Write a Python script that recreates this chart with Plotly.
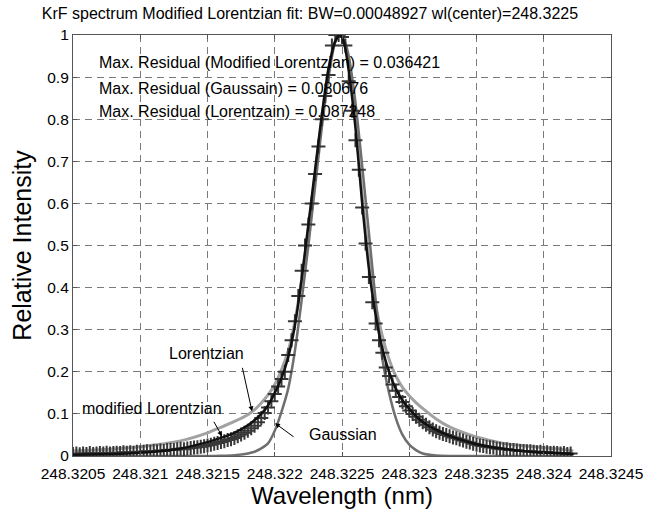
import plotly.graph_objects as go

# ---- data (offsets in units of 1e-5 nm relative to 248.3225 nm) ----
CENTER_NM = 248.3225
UNIT_NM = 1e-5

DATA_OFFSET = [
    -200, -197.5, -195, -192.5, -190, -187.5, -185, -182.5, -180, -177.5,
    -175, -172.5, -170, -167.5, -165, -162.5, -160, -157.5, -155, -152.5,
    -150, -147.5, -145, -142.5, -140, -137.5, -135, -132.5, -130, -127.5,
    -125, -122.5, -120, -117.5, -115, -112.5, -110, -107.5, -105, -102.5,
    -100, -97.5, -95, -92.5, -90, -87.5, -85, -82.5, -80, -77.5,
    -75, -72.5, -70, -67.5, -65, -62.5, -60, -57.5, -55, -52.5,
    -50, -47.5, -45, -42.5, -40, -37.5, -35, -32.5, -30, -27.5,
    -25, -22.5, -20, -17.5, -15, -12.5, -10, -7.5, -5, -2.5,
    0, 2.5, 5, 7.5, 10, 12.5, 15, 17.5, 20, 22.5,
    25, 27.5, 30, 32.5, 35, 37.5, 40, 42.5, 45, 47.5,
    50, 52.5, 55, 57.5, 60, 62.5, 65, 67.5, 70, 72.5,
    75, 77.5, 80, 82.5, 85, 87.5, 90, 92.5, 95, 97.5,
    100, 102.5, 105, 107.5, 110, 112.5, 115, 117.5, 120, 122.5,
    125, 127.5, 130, 132.5, 135, 137.5, 140, 142.5, 145, 147.5,
    150, 152.5, 155, 157.5, 160, 162.5, 165, 167.5, 170,
]
DATA_INTENSITY = [
    0.005, 0.006, 0.004, 0.006, 0.005, 0.007, 0.005, 0.006, 0.007, 0.006,
    0.008, 0.006, 0.007, 0.008, 0.007, 0.009, 0.008, 0.009, 0.008, 0.010,
    0.009, 0.010, 0.011, 0.010, 0.012, 0.011, 0.013, 0.012, 0.014, 0.015,
    0.014, 0.016, 0.017, 0.016, 0.018, 0.019, 0.020, 0.021, 0.022, 0.023,
    0.025, 0.027, 0.029, 0.031, 0.033, 0.035, 0.038, 0.040, 0.043, 0.047,
    0.051, 0.055, 0.060, 0.066, 0.072, 0.080, 0.090, 0.102, 0.115, 0.130,
    0.147, 0.165, 0.183, 0.200, 0.240, 0.275, 0.320, 0.380, 0.440, 0.500,
    0.550, 0.600, 0.670, 0.735, 0.800, 0.855, 0.905, 0.975, 1.000, 1.000,
    0.995, 0.975, 0.890, 0.820, 0.750, 0.680, 0.590, 0.505, 0.425, 0.365,
    0.315, 0.275, 0.245, 0.210, 0.190, 0.170, 0.155, 0.140, 0.128, 0.118,
    0.108, 0.100, 0.093, 0.086, 0.080, 0.074, 0.068, 0.063, 0.059, 0.055,
    0.052, 0.050, 0.047, 0.044, 0.042, 0.039, 0.037, 0.034, 0.032, 0.029,
    0.027, 0.025, 0.024, 0.022, 0.021, 0.020, 0.018, 0.017, 0.016, 0.016,
    0.014, 0.014, 0.013, 0.012, 0.012, 0.011, 0.011, 0.010, 0.009, 0.010,
    0.008, 0.009, 0.007, 0.008, 0.007, 0.006, 0.007, 0.005, 0.006,
]

FIT_OFFSET = [
    -200, -180, -160, -140, -120, -100, -90, -80, -70, -65, -60, -55, -50,
    -45, -40, -35, -30, -25, -20, -15, -10, -5, -2, 0, 2, 5, 10, 15, 20,
    25, 30, 35, 40, 45, 50, 55, 60, 70, 80, 90, 100, 120, 140, 160, 172,
]
MOD_LORENTZIAN = [
    0.003, 0.004, 0.006, 0.010, 0.018, 0.033, 0.043, 0.055, 0.073, 0.085, 0.100, 0.120, 0.150,
    0.185, 0.235, 0.310, 0.420, 0.550, 0.680, 0.810, 0.920, 0.985, 1.000, 0.995, 0.975, 0.915, 0.780, 0.600, 0.445,
    0.335, 0.255, 0.200, 0.160, 0.132, 0.112, 0.095, 0.081, 0.062, 0.048, 0.037, 0.028, 0.017, 0.010, 0.007, 0.005,
]
LORENTZIAN = [
    0.012, 0.015, 0.019, 0.026, 0.036, 0.055, 0.068, 0.082, 0.098, 0.110, 0.126, 0.145, 0.170,
    0.205, 0.250, 0.320, 0.420, 0.540, 0.670, 0.800, 0.920, 0.985, 1.000, 0.995, 0.980, 0.935, 0.800, 0.620, 0.470,
    0.360, 0.285, 0.230, 0.190, 0.163, 0.143, 0.127, 0.113, 0.088, 0.069, 0.056, 0.045, 0.030, 0.023, 0.017, 0.012,
]
GAUSSIAN = [
    0.0, 0.0, 0.0, 0.0, 0.0, 0.0, 0.0005, 0.002, 0.006, 0.010, 0.018, 0.030, 0.060,
    0.105, 0.160, 0.250, 0.370, 0.500, 0.640, 0.780, 0.900, 0.985, 1.000, 0.995, 0.985, 0.950, 0.840, 0.690, 0.530,
    0.370, 0.230, 0.150, 0.090, 0.050, 0.027, 0.014, 0.006, 0.001, 0.0, 0.0, 0.0, 0.0, 0.0, 0.0, 0.0,
]

X_TICKS = [248.3205, 248.321, 248.3215, 248.322, 248.3225, 248.323, 248.3235, 248.324, 248.3245]
X_TICK_LABELS = ["248.3205", "248.321", "248.3215", "248.322", "248.3225", "248.323", "248.3235", "248.324", "248.3245"]
Y_TICKS = [0, 0.1, 0.2, 0.3, 0.4, 0.5, 0.6, 0.7, 0.8, 0.9, 1.0]
Y_TICK_LABELS = ["0", "0.1", "0.2", "0.3", "0.4", "0.5", "0.6", "0.7", "0.8", "0.9", "1"]

RESIDUAL_TEXTS = [
    "Max. Residual (Modified Lorentzian) = 0.036421",
    "Max. Residual (Gaussain) = 0.080676",
    "Max. Residual (Lorentzain) = 0.087248",
]

TITLE = "KrF spectrum Modified Lorentzian fit: BW=0.00048927 wl(center)=248.3225"

# ---- build ----
data_wl = [CENTER_NM + o * UNIT_NM for o in DATA_OFFSET]
fit_wl = [CENTER_NM + o * UNIT_NM for o in FIT_OFFSET]

FONT = "Liberation Sans, Arial, sans-serif"

fig = go.Figure()
fig.add_trace(go.Scatter(x=fit_wl, y=LORENTZIAN, mode="lines", name="Lorentzian",
                         line=dict(color="#a2a2a2", width=3, shape="spline", smoothing=0.6)))
fig.add_trace(go.Scatter(x=fit_wl, y=GAUSSIAN, mode="lines", name="Gaussian",
                         line=dict(color="#6f6f6f", width=2.5, shape="spline", smoothing=0.6)))
fig.add_trace(go.Scatter(x=data_wl, y=DATA_INTENSITY, mode="markers", name="measured",
                         marker=dict(symbol="cross-thin", size=10, color="#383838",
                                     line=dict(color="#383838", width=2))))
fig.add_trace(go.Scatter(x=fit_wl, y=MOD_LORENTZIAN, mode="lines", name="modified Lorentzian",
                         line=dict(color="#111111", width=2.5, shape="spline", smoothing=0.6)))

annotations = []
for txt, yv in zip(RESIDUAL_TEXTS, [0.934, 0.872, 0.818]):
    annotations.append(dict(x=248.32068, y=yv, xref="x", yref="y", text=txt, showarrow=False,
                            xanchor="left", yanchor="middle", font=dict(size=16, family=FONT, color="black")))

# curve labels
annotations.append(dict(x=248.32149, y=0.2435, xref="x", yref="y", text="Lorentzian", showarrow=False,
                        xanchor="center", yanchor="middle", font=dict(size=16, family=FONT, color="black")))
annotations.append(dict(x=248.32109, y=0.113, xref="x", yref="y", text="modified Lorentzian", showarrow=False,
                        xanchor="center", yanchor="middle", font=dict(size=16, family=FONT, color="black")))
annotations.append(dict(x=248.32224, y=0.05, xref="x", yref="y", text="Gaussian", showarrow=False,
                        xanchor="left", yanchor="middle", font=dict(size=16, family=FONT, color="black")))
# arrows (tip x,y ; tail ax,ay)
for tip, tail in [((248.321831, 0.106), (248.321757, 0.213)),
                  ((248.321608, 0.047), (248.321541, 0.085)),
                  ((248.322002, 0.078), (248.322151, 0.043))]:
    annotations.append(dict(x=tip[0], y=tip[1], ax=tail[0], ay=tail[1], xref="x", yref="y",
                            axref="x", ayref="y", text="", showarrow=True, arrowhead=2,
                            arrowsize=1, arrowwidth=1, arrowcolor="black"))

fig.update_layout(
    width=658, height=515,
    margin=dict(l=73, r=47, t=35, b=57),
    paper_bgcolor="white", plot_bgcolor="white",
    showlegend=False,
    font=dict(family=FONT, size=16, color="black"),
    title=dict(text=TITLE, x=310 / 658, xref="container", xanchor="center",
               y=1 - 13 / 515, yref="container", yanchor="middle",
               font=dict(size=16, family=FONT, color="black")),
    annotations=annotations,
)
fig.update_xaxes(
    range=[248.3205, 248.3245], tickvals=X_TICKS, ticktext=X_TICK_LABELS, tickangle=0,
    ticks="inside", ticklen=4, tickcolor="#555", showline=True, linecolor="#555", linewidth=1.2,
    mirror="ticks", showgrid=True, gridcolor="#7a7a7a", gridwidth=1, griddash="7px,5px",
    zeroline=False, tickfont=dict(size=15.5, family=FONT, color="black"), ticklabelstandoff=3,
    title=dict(text="Wavelength (nm)", font=dict(size=24, family=FONT, color="black"), standoff=4),
)
fig.update_yaxes(
    range=[0, 1], tickvals=Y_TICKS, ticktext=Y_TICK_LABELS,
    ticks="inside", ticklen=4, tickcolor="#555", showline=True, linecolor="#555", linewidth=1.2,
    mirror="ticks", showgrid=True, gridcolor="#7a7a7a", gridwidth=1, griddash="7px,5px",
    zeroline=False, tickfont=dict(size=15.5, family=FONT, color="black"),
    title=dict(text="Relative Intensity", font=dict(size=25, family=FONT, color="black"), standoff=8),
)

fig.write_html("out.html")
